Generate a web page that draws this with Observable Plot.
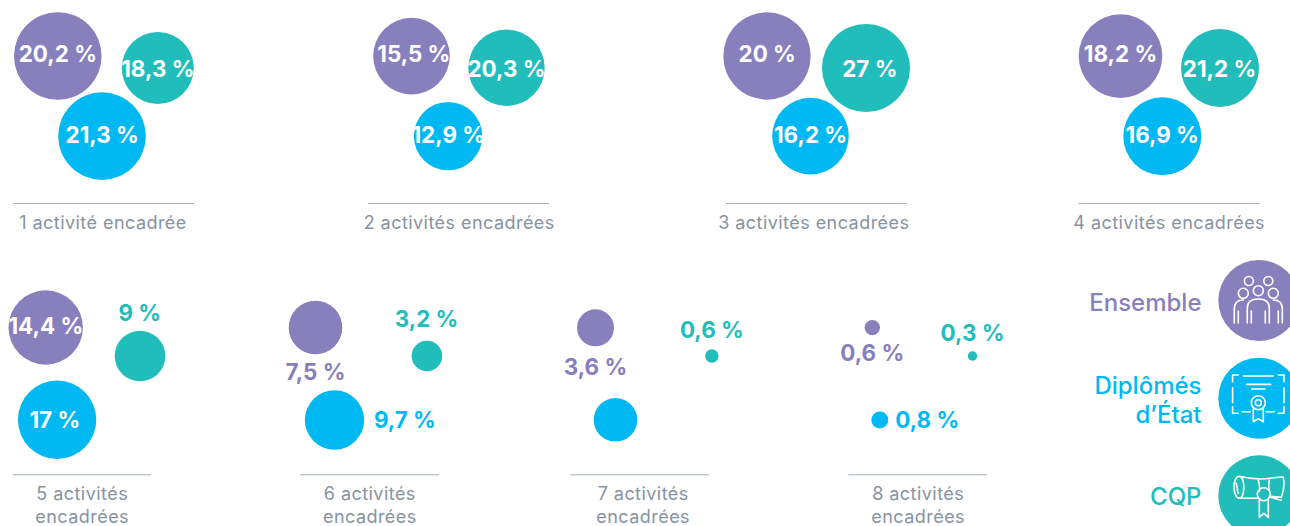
<!DOCTYPE html>
<html lang="fr">
<head>
<meta charset="utf-8">
<title>Activités encadrées</title>
<script src="https://cdn.jsdelivr.net/npm/d3@7"></script>
<script src="https://cdn.jsdelivr.net/npm/@observablehq/plot@0.6"></script>
<style>
html,body{margin:0;padding:0;background:#fff;overflow:hidden}
svg{display:block}
</style>
</head>
<body>
<div id="chart"></div>
<script>
// Values
const captions = ["1 activité encadrée","2 activités encadrées","3 activités encadrées","4 activités encadrées",
  "5 activités\nencadrées","6 activités\nencadrées","7 activités\nencadrées","8 activités\nencadrées"];
const ensemble = [20.2,15.5,20,18.2,14.4,7.5,3.6,0.6];
const diplomes = [21.3,12.9,16.2,16.9,17,9.7,null,0.8]; // no label printed for 7 activités
const cqp      = [18.3,20.3,27,21.2,9,3.2,0.6,0.3];
const seriesNames = ["Ensemble","Diplômés\nd’État","CQP"];

// Layout (SVG pixel units, via the identity-like x/y scales)
const ensembleX = [57.3,411,766.5,1120,45.2,315,595,871.8];
const ensembleY = [55.5,55.6,55.5,55.6,327,327,327.3,327.1];
const ensembleR = [43.8,38.3,43.7,41.8,37.2,26.8,18.5,7.7];
const diplomesX = [101.5,447.6,810,1161.8,56.6,334,615,879.3];
const diplomesY = [135.6,135.6,135.6,135.8,419.3,419.5,419.3,419.5];
const diplomesR = [43.8,34.2,38.3,39,39.2,29.7,21.8,8.5];
const cqpX = [157.3,506,865.5,1219.5,139.5,426.4,711.4,972];
const cqpY = [67.5,67.3,67.5,67.5,355.5,355.5,355.5,355.5];
const cqpR = [36,38.2,44,39,25.3,15.3,6.7,4.7];

const ensembleLX = [57.3,413.3,766.7,1120,45.3,315,595,871.7];
const ensembleLY = [54,54,54,54,326.7,372,367,353.3];
const diplomesLX = [101.7,447.7,810,1161.7,54.3,404.3,0,926.7];
const diplomesLY = [135.3,135,135,135,420,420,0,420];
const cqpLX = [157.3,506,869.3,1219,139.3,426,711.3,972];
const cqpLY = [69,69,69,69,313,319,330.7,333.3];

const ruleX1 = [13,368,726,1078.7,12.7,300.3,570.3,848.3];
const ruleX2 = [194,549,906.7,1259.7,151,439,709,987];
const ruleY  = [203,203,203,203,474.3,474.3,474.3,474.3];
const captionX = [102.5,458.7,813.3,1168.7,81.7,369.3,642.7,917.7];
const captionY = [221.5,221.5,221.5,221.5,503.5,503.5,503.5,503.5];

const legendCX = [1258.3,1258.3,1258.3];
const legendCY = [300,397.7,495.3];
const legendTY = [301,399,495.5];

const PURPLE = "#8880BC", BLUE = "#00B9F2", TEAL = "#21BDBB", GREY = "#87939F", RULE = "#A3AEB9";
const FONT = "Inter, 'Noto Sans', sans-serif";

const fmt = v => String(v).replace(".", ",") + " %";
const table = (vals, xs, ys, rs, lxs, lys, color) => vals.map((v, i) => ({
  label: v == null ? "" : fmt(v), x: xs[i], y: ys[i], r: rs[i], lx: lxs[i], ly: lys[i], color,
  inside: Math.abs(lxs[i] - xs[i]) < rs[i] && Math.abs(lys[i] - ys[i]) < rs[i]
}));
const circles = [
  ...table(ensemble, ensembleX, ensembleY, ensembleR, ensembleLX, ensembleLY, PURPLE),
  ...table(diplomes, diplomesX, diplomesY, diplomesR, diplomesLX, diplomesLY, BLUE),
  ...table(cqp, cqpX, cqpY, cqpR, cqpLX, cqpLY, TEAL)
];
const panels = captions.map((c, i) => ({c, x1: ruleX1[i], x2: ruleX2[i], y: ruleY[i], cx: captionX[i], cy: captionY[i]}));
const legend = seriesNames.map((n, i) => ({
  n, x: legendCX[i], y: legendCY[i], ty: legendTY[i], color: [PURPLE, BLUE, TEAL][i]
}));

// White line-art pictograms, placed with the plot's scales
const iconPaths = [
  // people
  `M-24 23V9Q-24 0 -15 0 M-20 23V11 M24 23V9Q24 0 15 0 M20 23V11
   M-11 23V8Q-11 -1 0 -1Q11 -1 11 8V23 M-7 23V11 M7 23V11`,
  // diploma
  `M-25.7 -16V-22.7H-20 M20 -22.7H25.7V-16 M-25.7 9V15.5H-20 M20 15.5H25.7V9
   M-15 -21.7H15 M-11.7 -13.3H12.3 M-6.7 -8.7H6.7 M-25.7 -10V5 M25.7 -10V5
   M-16 14H-8 M8 14H16 M-5 11V24L0 21L5 24V11`,
  // scroll
  `M-19 -19C-26 -19 -26 2 -19 3L-1 3 M-19 -19Q-2 -15 12 -17T25 -18Q27 -8 23 2L11 1
   M-19 -19C-13 -18 -13 2 -19 3 M-22 -12C-21 -8 -21 -4 -20 -2
   M0 -15Q2 -8 1 -4 M11 -15Q10 -8 11 -5 M1 5V22L5.5 18L10 22V5 M12 2L23 5`
];
const iconRings = [
  [[-9.4,-19,4.5],[10,-19,4.5],[-15,-6.7,5],[0,-9.3,5],[15,-6.7,5]],
  [[0,5,7],[0,5,3]],
  [[5.5,-1,6.5]]
];
const icons = (index, {x, y}) => {
  const g = d3.create("svg:g").attr("fill","none").attr("stroke","#fff")
    .attr("stroke-width",1.6).attr("stroke-linecap","round").attr("stroke-linejoin","round");
  legend.forEach((d, i) => {
    const t = g.append("g").attr("transform",`translate(${x(d.x)},${y(d.y)})`);
    t.append("path").attr("d", iconPaths[i]);
    iconRings[i].forEach(([a,b,r]) => t.append("circle").attr("cx",a).attr("cy",b).attr("r",r));
  });
  return g.node();
};

const chart = Plot.plot({
  width: 1290, height: 526,
  margin: 0,
  x: {domain:[0,1290], range:[0,1290], axis:null},
  y: {domain:[0,526], range:[0,526], axis:null},
  r: {type:"identity"},
  style: {background:"#fff", fontFamily: FONT},
  marks: [
    Plot.dot(circles, {x:"x", y:"y", r:"r", fill:"color", stroke:"none"}),
    Plot.text(circles, {x:"lx", y:"ly", text:"label", fill:d=>d.inside?"#fff":d.color,
      fontSize:22.4, fontWeight:700, textAnchor:"middle"}),
    Plot.ruleY(panels, {y:"y", x1:"x1", x2:"x2", stroke:RULE, strokeWidth:1}),
    Plot.text(panels, {x:"cx", y:"cy", text:"c", fill:GREY, fontSize:18, lineHeight:1.27, textAnchor:"middle",
      render(i, s, v, d, c, next) { const g = next(i, s, v, d, c); g.style.letterSpacing = "0.45px"; return g; }}),
    Plot.dot(legend, {x:"x", y:"y", r:()=>40.5, fill:"color", stroke:"none"}),
    icons,
    Plot.text(legend, {x:()=>1201, y:"ty", text:"n", fill:"color", fontSize:24, fontWeight:500,
      lineHeight:1.17, textAnchor:"end"})
  ]
});
document.getElementById("chart").append(chart);
</script>
</body>
</html>
